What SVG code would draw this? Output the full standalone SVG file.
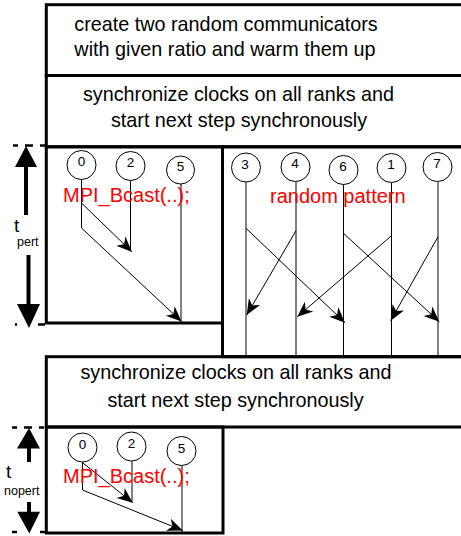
<svg xmlns="http://www.w3.org/2000/svg" width="461" height="536" viewBox="0 0 461 536">
<defs>
<style>
.box{fill:none;stroke:#000;stroke-width:3}
.t{font-family:"Liberation Sans",Arial,sans-serif;font-size:19.8px;fill:#000;text-anchor:middle}
.red{font-family:"Liberation Sans",Arial,sans-serif;font-size:20px;fill:#ff0000}
.n circle{fill:#fff;stroke:#000;stroke-width:1}
.n text{font-family:"Liberation Sans",Arial,sans-serif;font-size:13.5px;fill:#000;text-anchor:middle}
.ln{stroke:#000;stroke-width:1;fill:none}
.ar{stroke:#000;stroke-width:1;fill:none;marker-end:url(#ah)}
.dash{stroke:#000;stroke-width:2.5;stroke-dasharray:5 7 8 7}
.lbl{font-family:"Liberation Sans",Arial,sans-serif;fill:#000}
</style>
<marker id="ah" markerUnits="userSpaceOnUse" markerWidth="20" markerHeight="16" viewBox="-17 -8 20 16" refX="0" refY="0" orient="auto">
<path d="M0,0 L-15.5,-6.5 L-11,0 L-15.5,6.5 Z" fill="#000"/>
</marker>
</defs>

<g id="frames">
<rect class="box" x="46.3" y="4.7" width="500" height="70.8"/>
<rect class="box" x="46.3" y="75.5" width="500" height="71.3"/>
<rect class="box" x="46.3" y="146.8" width="176.2" height="176.2"/>
<rect class="box" x="222.5" y="146.8" width="300" height="209.9"/>
<rect class="box" x="46.3" y="356.7" width="500" height="70.3"/>
<rect class="box" x="46.3" y="427" width="176.7" height="106"/>
</g>

<g id="step-create">
<text class="t" x="226" y="31">create two random communicators</text>
<text class="t" x="225" y="56">with given ratio and warm them up</text>
</g>
<g id="step-sync1">
<text class="t" x="238.5" y="101">synchronize clocks on all ranks and</text>
<text class="t" x="239" y="127">start next step synchronously</text>
</g>
<g id="step-sync2">
<text class="t" x="236" y="379">synchronize clocks on all ranks and</text>
<text class="t" x="235.5" y="407">start next step synchronously</text>
</g>

<g id="time-pert">
<line class="dash" x1="13" y1="145.5" x2="46" y2="145.5"/>
<line class="dash" x1="15" y1="324.5" x2="46" y2="324.5" style="stroke-dasharray:2 21 7"/>
<polygon points="26,146 15,167 37,167" fill="#000"/>
<rect x="24" y="166" width="4" height="49" fill="#000"/>
<rect x="26.5" y="255" width="4" height="50" fill="#000"/>
<polygon points="29,328 17,304 40,304" fill="#000"/>
<text class="lbl" x="14" y="232" font-size="19">t</text>
<text class="lbl" x="17" y="245.5" font-size="12.5">pert</text>
</g>

<g id="time-nopert">
<line class="dash" x1="12" y1="427.5" x2="46" y2="427.5"/>
<line class="dash" x1="12" y1="532" x2="46" y2="532" style="stroke-dasharray:5 23 5"/>
<polygon points="29,428 17,448.5 40,448.5" fill="#000"/>
<rect x="27" y="448" width="4" height="14" fill="#000"/>
<rect x="27" y="502" width="4" height="10.5" fill="#000"/>
<polygon points="29.3,533.5 17.3,511.7 40,511.7" fill="#000"/>
<text class="lbl" x="6" y="478" font-size="19">t</text>
<text class="lbl" x="4" y="494.7" font-size="12.5">nopert</text>
</g>

<g id="connectors">
<line class="ln" x1="81.5" y1="180" x2="81.5" y2="228"/>
<line class="ln" x1="130.5" y1="181" x2="130.5" y2="250"/>
<line class="ln" x1="181" y1="184" x2="181" y2="323"/>
<line class="ar" x1="81.5" y1="203" x2="132" y2="252"/>
<line class="ar" x1="81.5" y1="228" x2="181.5" y2="321.5"/>
<line class="ln" x1="246" y1="182" x2="246" y2="356"/>
<line class="ln" x1="296" y1="182" x2="296" y2="356"/>
<line class="ln" x1="343.5" y1="184" x2="343.5" y2="356"/>
<line class="ln" x1="391.5" y1="183" x2="391.5" y2="356"/>
<line class="ln" x1="438" y1="182" x2="438" y2="356"/>
<line class="ar" x1="246" y1="228.3" x2="345" y2="322.7"/>
<line class="ar" x1="296" y1="230.7" x2="246.7" y2="315"/>
<line class="ar" x1="343.5" y1="233.3" x2="439.3" y2="321.7"/>
<line class="ar" x1="391.5" y1="235.7" x2="297.3" y2="316.7"/>
<line class="ar" x1="438" y1="236.7" x2="390.7" y2="320.7"/>
<line class="ln" x1="82.5" y1="462" x2="82.5" y2="490"/>
<line class="ln" x1="132" y1="461" x2="132" y2="502"/>
<line class="ln" x1="182" y1="465.5" x2="182" y2="533"/>
<line class="ar" x1="83" y1="463" x2="132.7" y2="502.7"/>
<line class="ar" x1="82.5" y1="490" x2="182.7" y2="530.5"/>
</g>

<g id="node-p0" class="n"><circle cx="81.5" cy="165" r="14.5"/><text x="81.5" y="166">0</text></g>
<g id="node-p2" class="n"><circle cx="130.5" cy="166" r="14.5"/><text x="130.5" y="167">2</text></g>
<g id="node-p5" class="n"><circle cx="180.5" cy="170" r="14"/><text x="180.5" y="170.5">5</text></g>

<g id="node-r3" class="n"><circle cx="246" cy="167.5" r="14.5"/><text x="245" y="168.5">3</text></g>
<g id="node-r4" class="n"><circle cx="295.5" cy="167" r="14.5"/><text x="295" y="168">4</text></g>
<g id="node-r6" class="n"><circle cx="343.5" cy="170" r="14.5"/><text x="343" y="171">6</text></g>
<g id="node-r1" class="n"><circle cx="391.5" cy="168" r="14.5"/><text x="391" y="168.5">1</text></g>
<g id="node-r7" class="n"><circle cx="437.5" cy="167" r="14.5"/><text x="437" y="168">7</text></g>

<g id="node-q0" class="n"><circle cx="82.5" cy="447.5" r="14.5"/><text x="82.5" y="449">0</text></g>
<g id="node-q2" class="n"><circle cx="131.5" cy="446.5" r="14.5"/><text x="131.5" y="448">2</text></g>
<g id="node-q5" class="n"><circle cx="181.5" cy="451" r="14.5"/><text x="181.5" y="452.5">5</text></g>

<g id="labels">
<text class="red" x="63" y="202">MPI_Bcast(..);</text>
<text class="red" x="270" y="203">random pattern</text>
<text class="red" x="63" y="483">MPI_Bcast(..);</text>
</g>
</svg>
